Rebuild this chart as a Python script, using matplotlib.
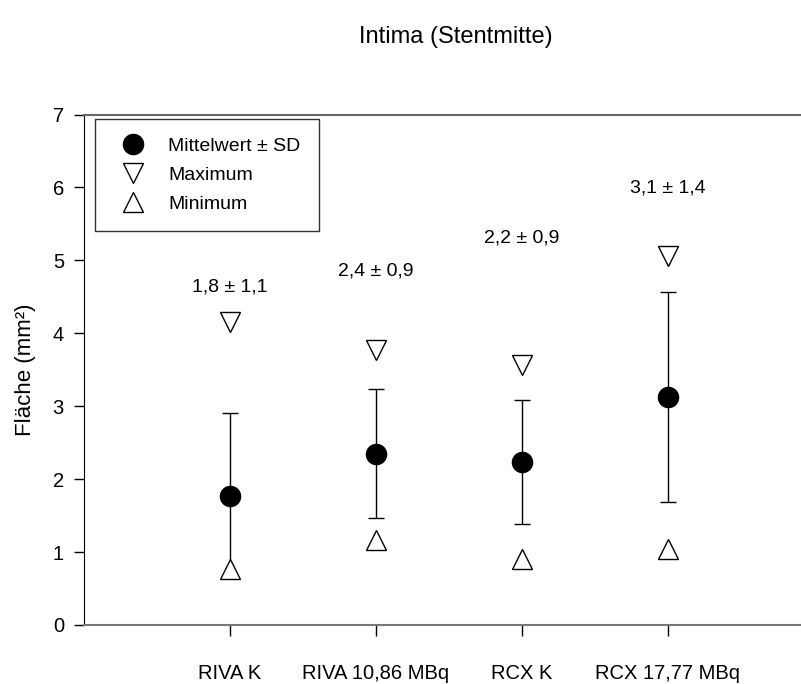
import matplotlib
matplotlib.use('Agg')
import matplotlib.pyplot as plt
from matplotlib.lines import Line2D

plt.rcParams['font.family'] = ['Liberation Sans', 'DejaVu Sans']

# Data
groups = ['RIVA K', 'RIVA 10,86 MBq', 'RCX K', 'RCX 17,77 MBq']
means = [1.77, 2.35, 2.23, 3.13]
sds = [1.13, 0.88, 0.85, 1.44]
maxima = [4.16, 3.77, 3.57, 5.06]
minima = [0.77, 1.17, 0.91, 1.04]
labels = ['1,8 \u00b1 1,1', '2,4 \u00b1 0,9', '2,2 \u00b1 0,9', '3,1 \u00b1 1,4']
label_y = [4.63, 4.85, 5.31, 5.99]

xpos = list(range(1, len(groups) + 1))

fig = plt.figure(figsize=(8.01, 6.84), dpi=100)
ax = fig.add_axes([0.1049, 0.0863, 0.911, 0.7463])

# mean +- SD
ax.errorbar(xpos, means, yerr=sds, fmt='o', color='black', ecolor='black',
            markersize=14.5, elinewidth=1, capsize=6, capthick=1, zorder=3)

# max / min markers
ax.plot(xpos, maxima, 'v', markersize=14, markerfacecolor='white',
        markeredgecolor='black', markeredgewidth=1, linestyle='none', zorder=4)
ax.plot(xpos, minima, '^', markersize=14, markerfacecolor='white',
        markeredgecolor='black', markeredgewidth=1, linestyle='none', zorder=4)

# value labels above each group
for x, y, t in zip(xpos, label_y, labels):
    ax.text(x, y, t, ha='center', va='center', fontsize=14)

ax.set_xlim(0, 5)
ax.set_ylim(0, 7)
ax.set_xticks(xpos)
ax.set_xticklabels(groups, fontsize=14.5)
ax.set_yticks(range(0, 8))
ax.tick_params(axis='x', direction='out', length=8, width=1, pad=20)
ax.tick_params(axis='y', direction='out', length=7, width=1, pad=7.5, labelsize=14.5)

ax.spines['right'].set_visible(False)
ax.spines['left'].set_color('black')
ax.spines['bottom'].set_color('#777777')
ax.spines['bottom'].set_linewidth(1.5)
ax.spines['top'].set_color('#666666')
ax.spines['top'].set_linewidth(1.5)

ax.set_ylabel('Fläche (mm²)', fontsize=16, labelpad=12)
fig.text(0.569, 0.946, 'Intima (Stentmitte)', ha='center', va='center', fontsize=17)

handles = [
    Line2D([], [], marker='o', color='black', linestyle='none', markersize=14.5),
    Line2D([], [], marker='v', markerfacecolor='white', markeredgecolor='black',
           linestyle='none', markersize=14),
    Line2D([], [], marker='^', markerfacecolor='white', markeredgecolor='black',
           linestyle='none', markersize=14),
]
leg = ax.legend(handles, ['Mittelwert \u00b1 SD', 'Maximum', 'Minimum'],
                loc='upper left', bbox_to_anchor=(0.0151, 0.9912), fontsize=14,
                frameon=True, fancybox=False, edgecolor='black',
                handletextpad=0.8, labelspacing=0.58, borderpad=0.95,
                borderaxespad=0)
leg.get_frame().set_linewidth(1)

plt.savefig('out.png', dpi=100)
